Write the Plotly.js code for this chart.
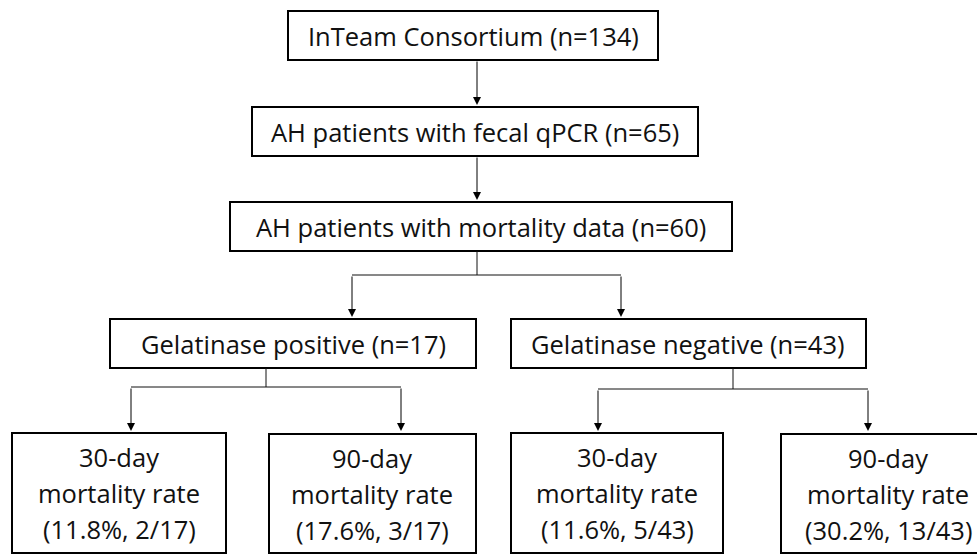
<!DOCTYPE html>
<html>
<head>
<meta charset="utf-8">
<script src="https://cdn.plot.ly/plotly-3.0.1.min.js"></script>
<style>html,body{margin:0;padding:0;background:#fff;}#chart{width:977px;height:554px;}</style>
</head>
<body>
<div id="chart"></div>
<script>
// ---- data ----
const nodeLabels = [
  "InTeam Consortium",
  "AH patients with fecal qPCR",
  "AH patients with mortality data",
  "Gelatinase positive",
  "Gelatinase negative",
  "30-day|mortality rate",
  "90-day|mortality rate",
  "30-day|mortality rate",
  "90-day|mortality rate"
];
const nodeCounts = [134, 65, 60, 17, 43, null, null, null, null];
const mortalityPct = [null, null, null, null, null, "11.8%", "17.6%", "11.6%", "30.2%"];
const mortalityFrac = [null, null, null, null, null, "2/17", "3/17", "5/43", "13/43"];

// ---- layout geometry (pixels) ----
const boxes = [
  [288, 658, 11, 60],
  [252, 698, 107, 156],
  [230, 732, 202, 251],
  [110, 476, 319, 368],
  [511, 866, 319, 368],
  [12, 226, 433, 553],
  [269, 476, 434, 553],
  [511, 723, 433, 553],
  [781, 1100, 434, 553]
];
const textCx = [473, 475, 481, 293, 688, 119, 372, 617, 888];
// straight arrows: [x, yFrom, yTo]
const arrows = [[477, 60, 105], [477, 156, 200], [352, 275, 317], [621, 275, 317],
                [131, 387, 431], [401, 387, 431], [598, 389, 431], [868, 389, 431]];
// plain lines: [x0, y0, x1, y1]
const lines = [[477, 251, 477, 275], [352, 275, 621, 275],
               [266, 368, 266, 387], [131, 387, 401, 387],
               [733, 368, 733, 389], [598, 389, 868, 389]];

const shapes = [];
const annotations = [];
const textColor = "#111";
const font = {family: "'Open Sans', 'Noto Sans', sans-serif", size: 25.5, color: textColor};

boxes.forEach((b, i) => {
  shapes.push({type: "rect", xref: "x", yref: "y", x0: b[0], x1: b[1], y0: b[2], y1: b[3],
               line: {color: "#000", width: 2}, fillcolor: "rgba(0,0,0,0)"});
  let textLines;
  if (nodeCounts[i] !== null) {
    textLines = [nodeLabels[i] + " (n=" + nodeCounts[i] + ")"];
  } else {
    textLines = nodeLabels[i].split("|").concat(["(" + mortalityPct[i] + ", " + mortalityFrac[i] + ")"]);
  }
  const cy = (b[2] + b[3]) / 2;
  const spacing = 36;
  textLines.forEach((t, k) => {
    annotations.push({x: textCx[i], y: cy + (k - (textLines.length - 1) / 2) * spacing,
                      xref: "x", yref: "y", text: t, showarrow: false, font: font,
                      xanchor: "center", yanchor: "middle"});
  });
});

lines.forEach(l => {
  shapes.push({type: "line", xref: "x", yref: "y", x0: l[0], y0: l[1], x1: l[2], y1: l[3],
               line: {color: "#111", width: 1}});
});

arrows.forEach(a => {
  annotations.push({x: a[0], y: a[2], ax: a[0], ay: a[1], xref: "x", yref: "y",
                    axref: "x", ayref: "y", text: "", showarrow: true,
                    arrowhead: 2, arrowsize: 1.6, arrowwidth: 1, arrowcolor: "#000"});
});

const layout = {
  width: 977, height: 554,
  margin: {l: 0, r: 0, t: 0, b: 0},
  paper_bgcolor: "#fff", plot_bgcolor: "#fff",
  xaxis: {range: [0, 977], visible: false, fixedrange: true},
  yaxis: {range: [554, 0], visible: false, fixedrange: true},
  shapes: shapes,
  annotations: annotations,
  showlegend: false
};

Plotly.newPlot("chart", [{x: [], y: [], type: "scatter", mode: "markers", hoverinfo: "skip"}], layout,
               {staticPlot: true, displayModeBar: false});
</script>
</body>
</html>
